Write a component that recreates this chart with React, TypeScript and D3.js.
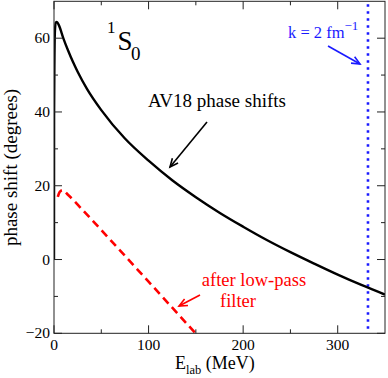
import React from "react";
import * as d3 from "d3";

const av18E = [0, 0.1, 0.5, 1, 2, 3, 5, 10, 15, 20, 25, 35, 50, 75, 100, 125, 150, 175, 200, 225, 250, 275, 300, 325, 350];
const av18Delta = [0, 38.4, 54.6, 62.0, 64.3, 64.4, 63.6, 59.9, 56.6, 53.6, 50.9, 46.2, 40.5, 32.8, 26.8, 21.5, 16.9, 12.7, 8.9, 5.3, 2.0, -1.1, -4.1, -6.9, -9.5];
const filtE = [4, 6, 9, 15, 30, 60, 100, 150];
const filtDelta = [17.0, 18.3, 18.8, 17.5, 13.5, 5.2, -6.0, -20.1];
const kLineE = 332;
const xMajor = [0, 100, 200, 300];
const xMinor = [50, 150, 250];
const yMajor = [-20, 0, 20, 40, 60];
const yMinor = [-10, 10, 30, 50];

const W = 388, H = 378;
const L = 54, R = 385, T = 1.3, B = 333.3;

export default function App() {
  const x = d3.scaleLinear().domain([0, 350]).range([L, R]);
  const y = d3.scaleLinear().domain([-20, 70]).range([B, T]);
  const line = d3.line<[number, number]>().x(d => x(d[0])).y(d => y(d[1])).curve(d3.curveMonotoneX);
  const av = av18E.map((e, i) => [e, av18Delta[i]] as [number, number]);
  const fl = filtE.map((e, i) => [e, filtDelta[i]] as [number, number]);
  const font = '"Liberation Serif", "Times New Roman", Times, serif';
  const arrow = (x1: number, y1: number, x2: number, y2: number, color: string, key: string) => {
    const a = Math.atan2(y2 - y1, x2 - x1);
    const len = 9, sp = 0.42;
    const p1 = [x2 - len * Math.cos(a - sp), y2 - len * Math.sin(a - sp)];
    const p2 = [x2 - len * Math.cos(a + sp), y2 - len * Math.sin(a + sp)];
    return (
      <g key={key} stroke={color} strokeWidth={1.6} fill="none">
        <line x1={x1} y1={y1} x2={x2} y2={y2} />
        <polyline points={`${p1[0]},${p1[1]} ${x2},${y2} ${p2[0]},${p2[1]}`} />
      </g>
    );
  };
  return (
    <svg width={W} height={H} style={{ position: "absolute", left: 0, top: 0, fontFamily: font }}>
      <rect x={0} y={0} width={W} height={H} fill="white" />
      <defs>
        <clipPath id="clip"><rect x={L} y={T} width={R - L} height={B - T} /></clipPath>
      </defs>
      <g clipPath="url(#clip)">
        <line x1={x(kLineE)} x2={x(kLineE)} y1={T + 3} y2={B} stroke="#1a1aff" strokeWidth={2.6} strokeDasharray="2.4 4.6" />
        <path d={line(fl) || ""} fill="none" stroke="#ff0000" strokeWidth={2.6} strokeDasharray="8 5" />
        <path d={line(av) || ""} fill="none" stroke="black" strokeWidth={2.4} />
      </g>
      <rect x={L} y={T} width={R - L} height={B - T} fill="none" stroke="#222" strokeWidth={1} />
      {xMajor.map(v => (
        <g key={"xM" + v} stroke="#222">
          <line x1={x(v)} x2={x(v)} y1={B} y2={B - 8} />
          <line x1={x(v)} x2={x(v)} y1={T} y2={T + 8} />
        </g>
      ))}
      {xMinor.map(v => (
        <g key={"xm" + v} stroke="#222">
          <line x1={x(v)} x2={x(v)} y1={B} y2={B - 4} />
          <line x1={x(v)} x2={x(v)} y1={T} y2={T + 4} />
        </g>
      ))}
      {yMajor.map(v => (
        <g key={"yM" + v} stroke="#222">
          <line x1={L} x2={L + 8} y1={y(v)} y2={y(v)} />
          <line x1={R} x2={R - 8} y1={y(v)} y2={y(v)} />
        </g>
      ))}
      {yMinor.map(v => (
        <g key={"ym" + v} stroke="#222">
          <line x1={L} x2={L + 4} y1={y(v)} y2={y(v)} />
          <line x1={R} x2={R - 4} y1={y(v)} y2={y(v)} />
        </g>
      ))}
      {xMajor.map(v => (
        <text key={"xt" + v} x={x(v)} y={350} fontSize={15.5} textAnchor="middle">{v}</text>
      ))}
      {yMajor.map(v => (
        <text key={"yt" + v} x={50} y={y(v) + 5} fontSize={15.5} textAnchor="end">{v < 0 ? "\u2212" + Math.abs(v) : v}</text>
      ))}
      <text x={175} y={369} fontSize={18}>
        E<tspan fontSize={12.5} dy={5}>lab</tspan><tspan dy={-5}> (MeV)</tspan>
      </text>
      <text transform={`translate(17,167.5) rotate(-90)`} fontSize={19} textAnchor="middle">phase shift (degrees)</text>
      <text x={107} y={33} fontSize={17}>1</text>
      <text x={117.5} y={50} fontSize={27}>S</text>
      <text x={131} y={60} fontSize={19}>0</text>
      <text x={148} y={107} fontSize={19}>AV18 phase shifts</text>
      {arrow(207, 122, 170, 167, "black", "a1")}
      <text x={288} y={38} fontSize={16.5} fill="#1a1aff">k = 2 fm<tspan fontSize={13} dy={-8}>{"\u22121"}</tspan></text>
      {arrow(328, 46, 360, 64, "#1a1aff", "a2")}
      <text x={254} y={286} fontSize={18.5} fill="#ff0000" textAnchor="middle">after low-pass</text>
      <text x={238} y={306.5} fontSize={18.5} fill="#ff0000" textAnchor="middle">filter</text>
      {arrow(200, 295, 179, 306, "#ff0000", "a3")}
    </svg>
  );
}
